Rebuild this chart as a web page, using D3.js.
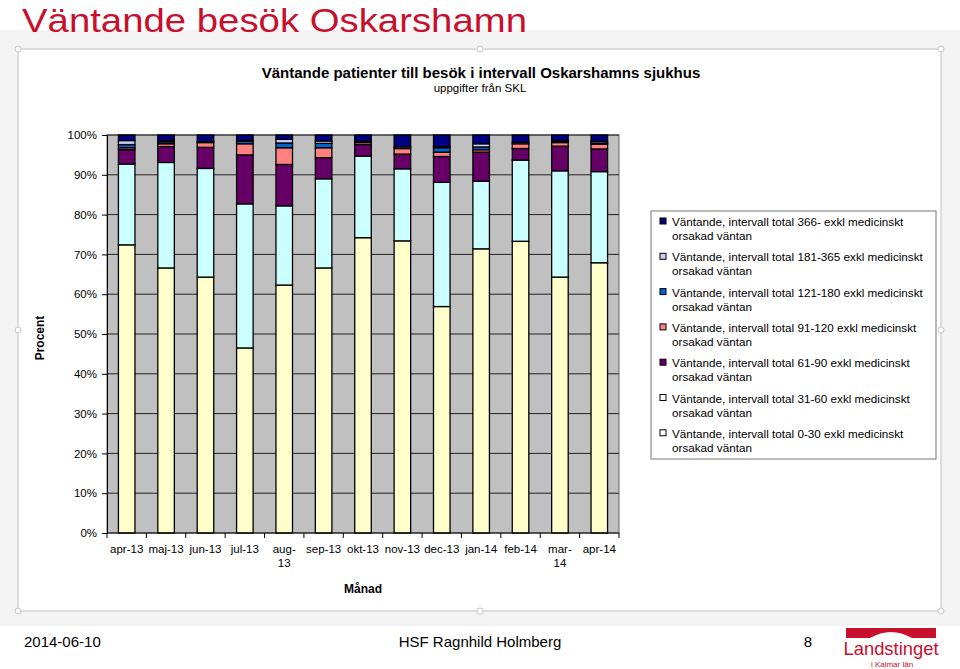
<!DOCTYPE html>
<html>
<head>
<meta charset="utf-8">
<script src="https://cdn.jsdelivr.net/npm/d3@7"></script>
<style>
  body { margin: 0; background: #fff; }
  svg { display: block; font-family: "Liberation Sans", Arial, sans-serif; }
</style>
</head>
<body>
<svg id="slide" width="960" height="669"></svg>
<script>
// data
var months = ["apr-13", "maj-13", "jun-13", "jul-13", "aug-13", "sep-13", "okt-13",
    "nov-13", "dec-13", "jan-14", "feb-14", "mar-14", "apr-14"]
var monthLabels = ["apr-13", "maj-13", "jun-13", "jul-13", "aug-|13", "sep-13", "okt-13",
    "nov-13", "dec-13", "jan-14", "feb-14", "mar-|14", "apr-14"]
var yTicks = [0, 0.1, 0.2, 0.3, 0.4, 0.5, 0.6, 0.7, 0.8, 0.9, 1]

// andel i procent per intervall
var d0_30 = [72.4, 66.6, 64.3, 46.5, 62.3, 66.6, 74.2, 73.4, 56.9, 71.4, 73.3, 64.3, 67.9]
var d31_60 = [20.3, 26.5, 27.3, 36.2, 19.9, 22.4, 20.5, 18.1, 31.2, 17.0, 20.4, 26.7, 22.9]
var d61_90 = [3.6, 4.0, 5.3, 12.3, 10.4, 5.3, 2.9, 3.7, 6.5, 7.3, 2.9, 6.2, 5.7]
var d91_120 = [0.5, 0.7, 1.2, 2.8, 4.2, 2.5, 0.5, 1.4, 1.1, 0.6, 1.2, 0.9, 1.2]
var d121_180 = [0.8, 0.5, 0.0, 0.6, 1.2, 1.1, 0.0, 0.0, 1.1, 0.7, 0.0, 0.2, 0.3]
var d181_365 = [1.0, 0.3, 0.2, 0.3, 0.9, 0.6, 0.3, 0.4, 0.3, 0.8, 0.4, 0.3, 0.4]
var d366 = [1.4, 1.4, 1.7, 1.3, 1.1, 1.5, 1.6, 3.0, 2.9, 2.2, 1.8, 1.4, 1.6]

var seriesKeys = ["0-30", "31-60", "61-90", "91-120", "121-180", "181-365", "366-"]
var seriesValues = [d0_30, d31_60, d61_90, d91_120, d121_180, d181_365, d366]
var seriesColors = ["#FFFFCC", "#CCFFFF", "#660066", "#FF8080", "#0066CC", "#CCCCFF", "#000080"]
var legendNames = [
    "Väntande, intervall total 366- exkl medicinskt",
    "Väntande, intervall total 181-365 exkl medicinskt",
    "Väntande, intervall total 121-180 exkl medicinskt",
    "Väntande, intervall total 91-120 exkl medicinskt",
    "Väntande, intervall total 61-90 exkl medicinskt",
    "Väntande, intervall total 31-60 exkl medicinskt",
    "Väntande, intervall total 0-30 exkl medicinskt"
]
var legendMarkers = ["#000080", "#CCCCFF", "#0066CC", "#FF8080", "#660066", "#FFFFFF", "#FFFFFF"]

var svg = d3.select("#slide")

// slide frame
svg.append("rect").attr("x", 0).attr("y", 30).attr("width", 960).attr("height", 596).attr("fill", "#f3f3f3")
svg.append("rect").attr("x", 18).attr("y", 49).attr("width", 923).attr("height", 562)
    .attr("fill", "#fff").attr("stroke", "#d4d4d4").attr("stroke-width", 1.5)
var handles = [[18, 49], [480, 49], [941, 49], [18, 330], [941, 330], [18, 611], [480, 611], [941, 611]]
svg.selectAll(".handle").data(handles).enter().append("circle")
    .attr("class", "handle")
    .attr("cx", function (d) { return d[0] })
    .attr("cy", function (d) { return d[1] })
    .attr("r", 3).attr("fill", "#fff").attr("stroke", "#c8c8c8")

svg.append("text").attr("x", 22).attr("y", 32)
    .attr("font-size", 34).attr("fill", "#c8102e")
    .attr("textLength", 505).attr("lengthAdjust", "spacingAndGlyphs")
    .text("Väntande besök Oskarshamn")

// chart titles
svg.append("text").attr("x", 481).attr("y", 78).attr("text-anchor", "middle")
    .attr("font-size", 15).attr("font-weight", "bold")
    .text("Väntande patienter till besök i intervall Oskarshamns sjukhus")
svg.append("text").attr("x", 480).attr("y", 92).attr("text-anchor", "middle")
    .attr("font-size", 11.5)
    .text("uppgifter från SKL")

// scales
var x = d3.scaleBand().domain(months).range([107, 619]).paddingInner(0.58).paddingOuter(0.29)
var y = d3.scaleLinear().domain([0, 1]).range([533, 135])

var plot = svg.append("g")
plot.append("rect").attr("x", 107).attr("y", 135).attr("width", 512).attr("height", 398)
    .attr("fill", "#C0C0C0").attr("stroke", "#666").attr("stroke-width", 1)

plot.selectAll(".grid").data(yTicks.slice(1)).enter().append("line")
    .attr("class", "grid")
    .attr("x1", 107).attr("x2", 619)
    .attr("y1", function (d) { return y(d) }).attr("y2", function (d) { return y(d) })
    .attr("stroke", "#222").attr("stroke-width", 1)

// stacked bars
var rows = months.map(function (m, i) {
    var r = { month: m }
    var total = 0
    seriesValues.forEach(function (s) { total += s[i] })
    seriesKeys.forEach(function (k, j) { r[k] = seriesValues[j][i] / total })
    return r
})
var stacked = d3.stack().keys(seriesKeys)(rows)

plot.selectAll(".series").data(stacked).enter().append("g")
    .attr("class", "series")
    .attr("fill", function (d, i) { return seriesColors[i] })
    .selectAll("rect").data(function (d) { return d }).enter().append("rect")
    .attr("x", function (d) { return x(d.data.month) })
    .attr("width", x.bandwidth())
    .attr("y", function (d) { return y(d[1]) })
    .attr("height", function (d) { return y(d[0]) - y(d[1]) })
    .attr("stroke", "#000").attr("stroke-width", 1.3)

// y axis
var yAxis = d3.axisLeft(y).tickValues(yTicks).tickFormat(d3.format(".0%")).tickSize(5)
var ya = svg.append("g").attr("transform", "translate(107,0)").call(yAxis)
ya.select(".domain").attr("stroke", "#000")
ya.selectAll("line").attr("stroke", "#000")
ya.selectAll("text").attr("font-size", 11.5).attr("fill", "#000").attr("x", -10)
    .attr("font-family", "Liberation Sans, Arial, sans-serif")

// x axis
var xa = svg.append("g")
xa.append("line").attr("x1", 107).attr("x2", 619).attr("y1", 533).attr("y2", 533).attr("stroke", "#000")
var bounds = months.map(function (m) { return x(m) - (x.step() - x.bandwidth()) / 2 })
bounds.push(619)
xa.selectAll(".xt").data(bounds).enter().append("line")
    .attr("class", "xt")
    .attr("x1", function (d) { return d }).attr("x2", function (d) { return d })
    .attr("y1", 533).attr("y2", 538).attr("stroke", "#000")
xa.selectAll(".xl").data(months).enter().append("text")
    .attr("class", "xl")
    .attr("text-anchor", "middle").attr("font-size", 11.5)
    .attr("transform", function (d) { return "translate(" + (x(d) + x.bandwidth() / 2) + ",553)" })
    .each(function (d, i) {
        var parts = monthLabels[i].split("|")
        var t = d3.select(this)
        parts.forEach(function (p, k) {
            t.append("tspan").attr("x", 0).attr("dy", k ? 14 : 0).text(p)
        })
    })

svg.append("text").attr("x", 363).attr("y", 593).attr("text-anchor", "middle")
    .attr("font-size", 12).attr("font-weight", "bold").text("Månad")
svg.append("text").attr("transform", "translate(44,338) rotate(-90)").attr("text-anchor", "middle")
    .attr("font-size", 12).attr("font-weight", "bold").text("Procent")

// legend
var lg = svg.append("g")
lg.append("rect").attr("x", 651).attr("y", 211).attr("width", 285).attr("height", 248)
    .attr("fill", "#fff").attr("stroke", "#777").attr("stroke-width", 1)
var item = lg.selectAll(".li").data(legendNames).enter().append("g")
    .attr("class", "li")
    .attr("transform", function (d, i) { return "translate(660," + (222 + i * 35.3) + ")" })
item.append("rect").attr("x", 0).attr("y", -4).attr("width", 6).attr("height", 6)
    .attr("fill", function (d, i) { return legendMarkers[i] })
    .attr("stroke", "#000").attr("stroke-width", 1)
item.append("text").attr("x", 12).attr("y", 4).attr("font-size", 11.7).text(function (d) { return d })
item.append("text").attr("x", 12).attr("y", 18).attr("font-size", 11.7).text("orsakad väntan")

// footer
svg.append("text").attr("x", 24).attr("y", 647).attr("font-size", 15).text("2014-06-10")
svg.append("text").attr("x", 480).attr("y", 647).attr("text-anchor", "middle").attr("font-size", 15)
    .text("HSF Ragnhild Holmberg")
svg.append("text").attr("x", 808).attr("y", 647).attr("text-anchor", "middle").attr("font-size", 15).text("8")

// logo
var logo = svg.append("g")
logo.append("path")
    .attr("d", "M846,628 L936,628 L936,638 L912,638 Q891,626 870,638 L846,638 Z")
    .attr("fill", "#c8102e")
logo.append("text").attr("x", 891).attr("y", 655).attr("text-anchor", "middle")
    .attr("font-size", 19).attr("fill", "#c8102e")
    .attr("textLength", 95).attr("lengthAdjust", "spacingAndGlyphs")
    .text("Landstinget")
logo.append("text").attr("x", 892).attr("y", 667).attr("text-anchor", "middle")
    .attr("font-size", 8).attr("fill", "#c8102e").text("i Kalmar län")
</script>
</body>
</html>
